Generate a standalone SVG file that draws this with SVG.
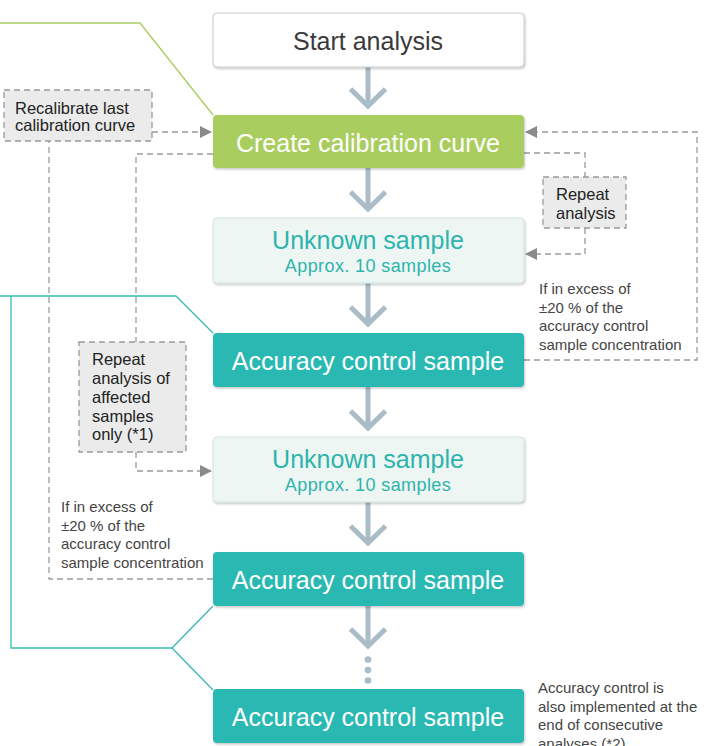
<svg xmlns="http://www.w3.org/2000/svg" width="710" height="746" viewBox="0 0 710 746">
<defs>
<filter id="sh" x="-5%" y="-10%" width="110%" height="130%">
<feDropShadow dx="1" dy="1.5" stdDeviation="1.2" flood-color="#000" flood-opacity="0.22"/>
</filter>
<marker id="ah" viewBox="0 0 12 12" refX="11" refY="6" markerWidth="12" markerHeight="12" markerUnits="userSpaceOnUse" orient="auto">
<path d="M0,0 L12,6 L0,12 Z" fill="#8a8a8a"/>
</marker>
<style>
.t{font-family:"Liberation Sans",Arial,sans-serif;}
.node{font-size:25px;text-anchor:middle;}
.sub{font-size:18px;text-anchor:middle;letter-spacing:0.4px;fill:#2db4ad;}
.note{font-size:15px;fill:#454545;}
.bt{font-size:16.5px;fill:#222;}
.dash{fill:none;stroke:#9a9a9a;stroke-width:1.3;stroke-dasharray:6 4;}
.dbox{fill:#ebebeb;stroke:#9a9a9a;stroke-width:1.3;stroke-dasharray:6 4;}
.big{fill:none;stroke:#aabcc8;stroke-width:5;}
.teal{fill:none;stroke:#3ab9b4;stroke-width:1.3;}
.green{fill:none;stroke:#a8cd5c;stroke-width:1.3;}
</style>
</defs>
<rect width="710" height="746" fill="#fff"/>

<g id="connectors">
<!-- leader lines -->
<polyline class="green" points="0,23 140,23 213,115"/>
<polyline class="teal" points="0,296 176,296 213,333"/>
<polyline class="teal" points="11,296 11,648 172,648 213,606"/>
<line class="teal" x1="172" y1="648" x2="213" y2="690"/>
<!-- big flow arrows -->
<g class="big">
<line x1="368" y1="67" x2="368" y2="105"/><polyline points="350.5,89 368,106 385.5,89"/>
<line x1="368" y1="168" x2="368" y2="208"/><polyline points="350.5,192 368,209 385.5,192"/>
<line x1="368" y1="283" x2="368" y2="323"/><polyline points="350.5,307 368,324 385.5,307"/>
<line x1="368" y1="387" x2="368" y2="427"/><polyline points="350.5,411 368,428 385.5,411"/>
<line x1="368" y1="502" x2="368" y2="542"/><polyline points="350.5,526 368,543 385.5,526"/>
<line x1="368" y1="606" x2="368" y2="645"/><polyline points="350.5,629 368,646 385.5,629"/>
</g>
<g fill="#aabcc8">
<circle cx="368" cy="659.5" r="3.3"/>
<circle cx="368" cy="670" r="3.3"/>
<circle cx="368" cy="680.5" r="3.3"/>
</g>
<!-- dashed feedback -->
<polyline class="dash" points="152,132 211,132" marker-end="url(#ah)"/>
<polyline class="dash" points="213,579 49,579 49,141"/>
<polyline class="dash" points="213,154 136,154 136,342"/>
<polyline class="dash" points="136,452 136,471 211,471" marker-end="url(#ah)"/>
<polyline class="dash" points="524,360 697,360 697,132 526,132" marker-end="url(#ah)"/>
<polyline class="dash" points="524,153 585,153 585,177"/>
<polyline class="dash" points="585,228 585,254 526,254" marker-end="url(#ah)"/>
</g>

<g id="start">
<rect x="213" y="13" width="311" height="54" rx="4" fill="#fff" stroke="#c9c9c9" stroke-width="1" filter="url(#sh)"/>
<text class="t node" x="368" y="50" fill="#3a3a3a">Start analysis</text>
</g>
<g id="create">
<rect x="213" y="115" width="311" height="53" rx="4" fill="#a9ce5e" filter="url(#sh)"/>
<text class="t node" x="368" y="151.5" fill="#fff">Create calibration curve</text>
</g>
<g id="unknown1">
<rect x="213" y="218" width="311" height="65" rx="4" fill="#eef6f3" stroke="#cde8e1" stroke-width="1" filter="url(#sh)"/>
<text class="t node" x="368" y="248.5" fill="#2db4ad">Unknown sample</text>
<text class="t sub" x="368" y="271.5">Approx. 10 samples</text>
</g>
<g id="acc1">
<rect x="213" y="333" width="311" height="54" rx="4" fill="#2cb8b2" filter="url(#sh)"/>
<text class="t node" x="368" y="369.5" fill="#fff">Accuracy control sample</text>
</g>
<g id="unknown2">
<rect x="213" y="437" width="311" height="65" rx="4" fill="#eef6f3" stroke="#cde8e1" stroke-width="1" filter="url(#sh)"/>
<text class="t node" x="368" y="467.5" fill="#2db4ad">Unknown sample</text>
<text class="t sub" x="368" y="490.5">Approx. 10 samples</text>
</g>
<g id="acc2">
<rect x="213" y="552" width="311" height="54" rx="4" fill="#2cb8b2" filter="url(#sh)"/>
<text class="t node" x="368" y="588.5" fill="#fff">Accuracy control sample</text>
</g>
<g id="acc3">
<rect x="213" y="689" width="311" height="54" rx="4" fill="#2cb8b2" filter="url(#sh)"/>
<text class="t node" x="368" y="726" fill="#fff">Accuracy control sample</text>
</g>

<g id="recalibrate">
<rect class="dbox" x="4" y="90" width="148" height="51"/>
<text class="t bt" x="15" y="113.5">Recalibrate last</text>
<text class="t bt" x="15" y="131">calibration curve</text>
</g>
<g id="repeat">
<rect class="dbox" x="543" y="177" width="83" height="51"/>
<text class="t bt" x="556" y="200">Repeat</text>
<text class="t bt" x="556" y="218.5">analysis</text>
</g>
<g id="repeat-affected">
<rect class="dbox" x="79" y="342" width="107" height="110"/>
<text class="t bt" x="92" y="365">Repeat</text>
<text class="t bt" x="92" y="384">analysis of</text>
<text class="t bt" x="92" y="402.7">affected</text>
<text class="t bt" x="92" y="421.5">samples</text>
<text class="t bt" x="92" y="440">only (*1)</text>
</g>

<g id="note-right">
<text class="t note" x="539" y="294">If in excess of</text>
<text class="t note" x="539" y="312.7">±20 % of the</text>
<text class="t note" x="539" y="331.4">accuracy control</text>
<text class="t note" x="539" y="350">sample concentration</text>
</g>
<g id="note-left">
<text class="t note" x="61" y="512">If in excess of</text>
<text class="t note" x="61" y="530.7">±20 % of the</text>
<text class="t note" x="61" y="549.4">accuracy control</text>
<text class="t note" x="61" y="568">sample concentration</text>
</g>
<g id="note-bottom">
<text class="t note" x="538" y="693">Accuracy control is</text>
<text class="t note" x="538" y="711.7">also implemented at the</text>
<text class="t note" x="538" y="730.4">end of consecutive</text>
<text class="t note" x="538" y="749">analyses (*2)</text>
</g>
</svg>
